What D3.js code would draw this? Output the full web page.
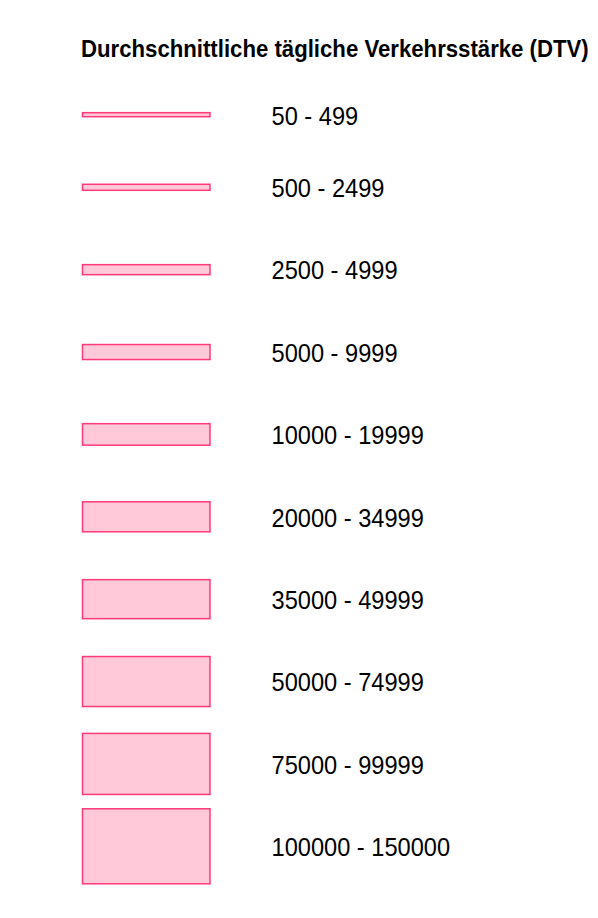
<!DOCTYPE html>
<html lang="de">
<head>
    <meta charset="UTF-8">
    <title>DTV Legende</title>
    <script src="https://d3js.org/d3.v7.min.js"></script>
    <style>
        html, body {
            margin: 0;
            background: #fff;
        }
        text {
            font-family: "Liberation Sans", Arial, sans-serif;
        }
    </style>
</head>
<body>
    <div id="vis"></div>
    <script>
        // legend classes and the symbol thickness (px) each class is drawn with
        var classLabels = ["50 - 499", "500 - 2499", "2500 - 4999", "5000 - 9999",
            "10000 - 19999", "20000 - 34999", "35000 - 49999", "50000 - 74999",
            "75000 - 99999", "100000 - 150000"];
        var classThickness = [4, 6, 10, 15, 21.5, 30, 39, 50, 61, 75];
        var titleText = "Durchschnittliche tägliche Verkehrsstärke (DTV)";

        var width = 598, height = 918;

        var svg = d3.select('#vis')
            .append('svg')
                .attr('width', width)
                .attr('height', height);

        // row centres: first gap is tighter than the rest
        var y_scale = d3.scaleLinear()
            .domain([0, 1, classLabels.length - 1])
            .range([114.7, 187.3, 846.3]);

        var thick_scale = d3.scaleOrdinal()
            .domain(classLabels)
            .range(classThickness);

        var rows = classLabels.map(function(d, i) { return {label: d, i: i}; });

        // bold title, squeezed horizontally so it looks condensed
        var title = svg.append('text')
            .attr('font-size', 24.5)
            .attr('font-weight', 'bold')
            .attr('fill', '#000')
            .text(titleText);
        var titleW = title.node().getComputedTextLength();
        title.attr('transform', 'translate(81,56.7) scale(' + (508 / titleW) + ',1)');

        var row = svg.selectAll('.row')
            .data(rows)
            .enter()
            .append('g')
                .attr('class', 'row')
                .attr('transform', function(d) { return 'translate(0,' + y_scale(d.i) + ')'; });

        row.append('rect')
            .attr('x', 82.5)
            .attr('width', 127.5)
            .attr('y', function(d) { return -thick_scale(d.label) / 2; })
            .attr('height', function(d) { return thick_scale(d.label); })
            .attr('fill', '#ffc9d9')
            .attr('stroke', '#ff3a78')
            .attr('stroke-width', 1.5);

        row.append('text')
            .attr('transform', 'translate(271.5,9.8) scale(0.945,1)')
            .attr('font-size', 25)
            .attr('fill', '#000')
            .text(function(d) { return d.label; });
    </script>
</body>
</html>
